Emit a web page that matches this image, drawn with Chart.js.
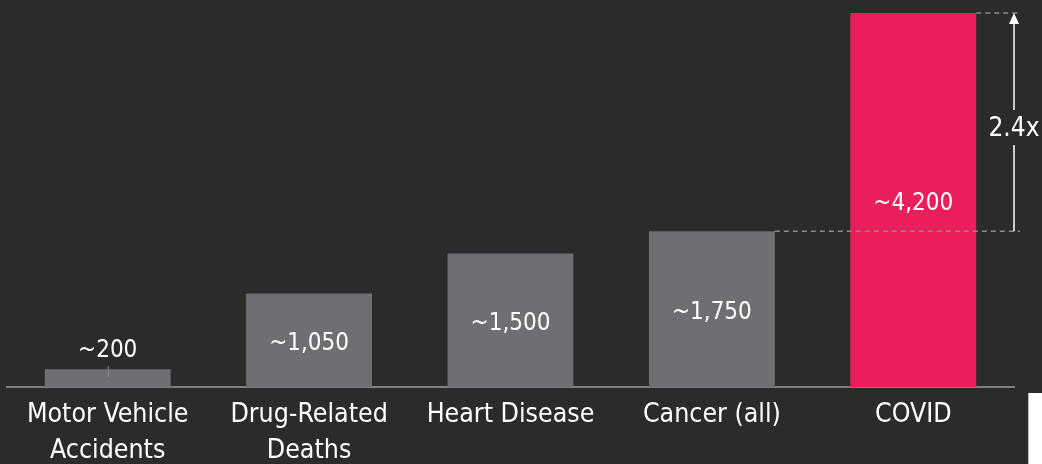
<!DOCTYPE html>
<html><head><meta charset="utf-8">
<script src="https://cdn.jsdelivr.net/npm/chart.js@4.4.1/dist/chart.umd.min.js"></script>
<style>html,body{margin:0;padding:0;background:#2b2b2b;overflow:hidden}canvas{display:block}</style>
</head><body>
<canvas id="c" width="1042" height="464"></canvas>
<script>
const categories = [["Motor Vehicle","Accidents"],["Drug-Related","Deaths"],"Heart Disease","Cancer (all)","COVID"];
const deaths = [200, 1050, 1500, 1750, 4200];
const valueLabels = ["~200","~1,050","~1,500","~1,750","~4,200"];
const barColors = ["#6e6f73","#6e6f73","#6e6f73","#6e6f73","#e91e5a"];
const compareFrom = 3;
const compareTo = 4;
const ratioLabel = "2.4x";

const FONT = "'DejaVu Sans Condensed', 'DejaVu Sans', sans-serif";

const annot = {
  id: 'annot',
  beforeDraw(chart) {
    const c = chart.ctx;
    c.save(); c.fillStyle = '#2b2b2b'; c.fillRect(0, 0, chart.width, chart.height); c.restore();
  },
  afterDatasetsDraw(chart) {
    const c = chart.ctx, meta = chart.getDatasetMeta(0), area = chart.chartArea;
    c.save();
    c.fillStyle = '#ffffff';
    c.font = "24px " + FONT;
    c.textAlign = 'center';
    c.textBaseline = 'middle';
    meta.data.forEach((bar, i) => {
      const h = bar.base - bar.y;
      if (h < 40) {
        c.fillText(valueLabels[i], bar.x, bar.y - 18);
        c.strokeStyle = '#8e8e8e'; c.lineWidth = 1;
        c.beginPath(); c.moveTo(bar.x + 0.5, bar.y - 3); c.lineTo(bar.x + 0.5, bar.y + 8); c.stroke();
      } else {
        c.fillText(valueLabels[i], bar.x, (bar.y + bar.base) / 2 + 3.5);
      }
    });
    const a = meta.data[compareFrom], b = meta.data[compareTo];
    const xr = area.right + 6;
    c.strokeStyle = '#8a8a8a'; c.lineWidth = 1.5; c.setLineDash([5, 4]);
    c.beginPath();
    c.moveTo(a.x + a.width / 2, a.y); c.lineTo(xr, a.y);
    c.moveTo(b.x + b.width / 2, b.y); c.lineTo(xr, b.y);
    c.stroke();
    c.setLineDash([]);
    const ax = area.right;
    const mid = (a.y + b.y) / 2 + 5;
    c.strokeStyle = '#ffffff'; c.lineWidth = 1.5;
    c.beginPath();
    c.moveTo(ax, a.y); c.lineTo(ax, mid + 18);
    c.moveTo(ax, mid - 17); c.lineTo(ax, b.y + 8);
    c.stroke();
    c.fillStyle = '#ffffff';
    c.beginPath(); c.moveTo(ax, b.y); c.lineTo(ax - 5, b.y + 11); c.lineTo(ax + 5, b.y + 11); c.closePath(); c.fill();
    c.font = "26px " + FONT;
    c.fillText(ratioLabel, ax, mid + 2);
    c.restore();
  },
  afterDraw(chart) {
    const c = chart.ctx;
    c.save();
    c.fillStyle = '#ffffff';
    c.fillRect(chart.width - 14, 393, 14, chart.height - 393);
    c.fillStyle = '#bdbdbd';
    c.fillRect(chart.width - 14, 393, 1, chart.height - 393);
    c.restore();
  }
};

new Chart(document.getElementById('c'), {
  type: 'bar',
  data: {
    labels: categories,
    datasets: [{ data: deaths, backgroundColor: barColors, barPercentage: 0.625, categoryPercentage: 1 }]
  },
  options: {
    responsive: false, animation: false, devicePixelRatio: 1,
    layout: { padding: { left: 7, right: 28, top: 13, bottom: 0 } },
    plugins: { legend: { display: false }, tooltip: { enabled: false } },
    scales: {
      x: {
        afterFit(scale) { scale.height = 77; },
        grid: { display: false, drawTicks: false },
        border: { display: true, color: '#7f7f7f', width: 2 },
        ticks: { color: '#ffffff', font: { family: FONT, size: 26.5, lineHeight: 1.36 }, padding: 10, autoSkip: false, maxRotation: 0 }
      },
      y: { display: false, min: 0, max: 4200 }
    }
  },
  plugins: [annot]
});
</script>
</body></html>
